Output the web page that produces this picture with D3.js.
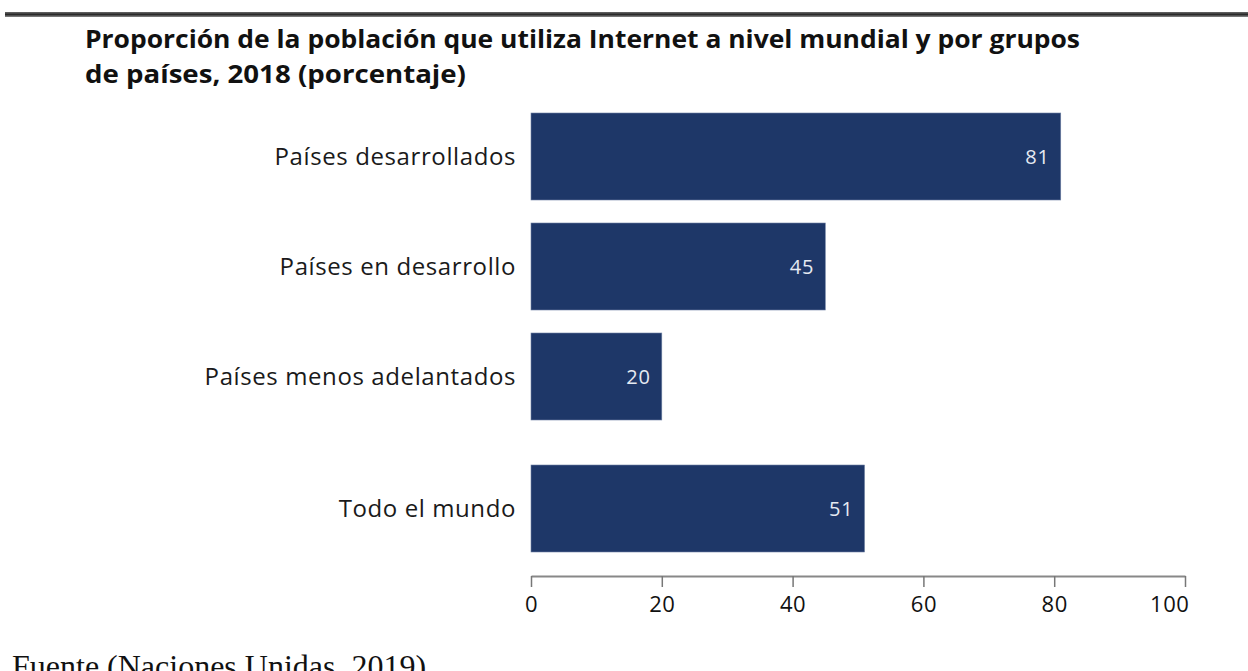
<!DOCTYPE html>
<html><head><meta charset="utf-8">
<script src="https://cdn.jsdelivr.net/npm/d3@7"></script>
<style>body{margin:0;background:#fff;overflow:hidden}</style>
</head><body>
<svg id="chart" width="1248" height="671"></svg>
<script>
const categories = ["Países desarrollados", "Países en desarrollo", "Países menos adelantados", "Todo el mundo"];
const values = [81, 45, 20, 51];
const tickValues = [0, 20, 40, 60, 80, 100];
const titleLines = ["Proporción de la población que utiliza Internet a nivel mundial y por grupos", "de países, 2018 (porcentaje)"];
const sourceText = "Fuente (Naciones Unidas, 2019)";

const svg = d3.select("#chart");

// top rule
const grad = svg.append("defs").append("linearGradient").attr("id","rule").attr("x1",0).attr("x2",0).attr("y1",0).attr("y2",1);
grad.append("stop").attr("offset","0%").attr("stop-color","#6a6a6a");
grad.append("stop").attr("offset","50%").attr("stop-color","#2a2a2a");
grad.append("stop").attr("offset","100%").attr("stop-color","#8a8a8a");
svg.append("rect").attr("x",5).attr("y",12).attr("width",1243).attr("height",5).attr("fill","url(#rule)");

// title
const titleWidths = [995, 381];
titleLines.forEach((t,i)=>{
  svg.append("text").attr("x",85).attr("y",48+i*35)
    .attr("font-family","'Open Sans', sans-serif").attr("font-weight","bold")
    .attr("font-size",25).attr("fill","#111")
    .attr("textLength",titleWidths[i]).attr("lengthAdjust","spacingAndGlyphs")
    .text(t);
});

const x = d3.scaleLinear().domain([0,100]).range([531,1185]);
const y = d3.scaleBand().domain(categories).range([113,530]).paddingInner(23/110).paddingOuter(0);
const extra = d => d === "Todo el mundo" ? 22 : 0;

svg.append("g").selectAll("rect").data(categories).join("rect")
  .attr("x", x(0)).attr("y", d => y(d)+extra(d))
  .attr("width", (d,i) => x(values[i]) - x(0)).attr("height", y.bandwidth())
  .attr("fill", "#1e3768").attr("stroke","#6f81a3").attr("stroke-width",0.6);

svg.append("g").selectAll("text").data(categories).join("text")
  .attr("x", (d,i) => x(values[i]) - 11).attr("y", d => y(d)+extra(d)+y.bandwidth()/2)
  .attr("dy","0.35em").attr("text-anchor","end")
  .attr("font-family","'Open Sans', sans-serif").attr("font-size",20).attr("letter-spacing",0.8).attr("fill","#e6eaf2")
  .text((d,i)=>values[i]);

svg.append("g").selectAll("text").data(categories).join("text")
  .attr("x", 516).attr("y", d => y(d)+extra(d)+y.bandwidth()/2)
  .attr("dy","0.35em").attr("text-anchor","end")
  .attr("font-family","'Open Sans', sans-serif").attr("font-size",24).attr("letter-spacing",0.6).attr("fill","#1a1a1a")
  .text(d=>d);

const axis = d3.axisBottom(x).tickValues(tickValues).tickSize(11).tickSizeOuter(0).tickPadding(9);
const ag = svg.append("g").attr("transform","translate(0,576)").call(axis);
ag.select(".domain").attr("stroke","#888").attr("stroke-width",2);
ag.selectAll(".tick line").attr("stroke","#777").attr("stroke-width",1.5);
ag.selectAll(".tick text").attr("font-family","'Open Sans', sans-serif").attr("font-size",22).attr("letter-spacing",0.6).attr("fill","#111");
ag.selectAll(".tick text").filter(d => d === 100).attr("text-anchor","end").attr("x",4);

svg.append("text").attr("x",12).attr("y",677)
  .attr("font-family","'Liberation Serif', 'Times New Roman', serif").attr("font-size",32).attr("fill","#111")
  .text(sourceText);
</script>
</body></html>
